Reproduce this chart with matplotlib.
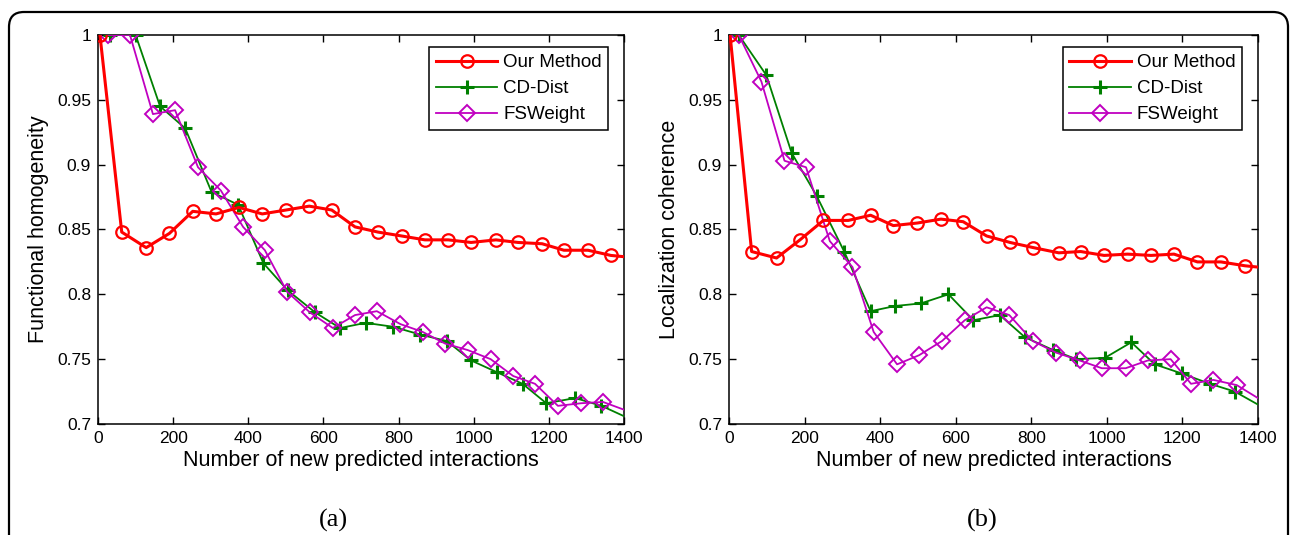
import matplotlib
matplotlib.use("Agg")
import matplotlib.pyplot as plt
from matplotlib.patches import FancyBboxPatch

plt.rcParams['font.family'] = ['Liberation Sans', 'DejaVu Sans']

# ---- data ----
# (a) functional homogeneity
a_our_x = [5, 63, 128, 190, 252, 314, 375, 437, 500, 562, 622, 684, 745, 808,
           870, 932, 993, 1059, 1118, 1182, 1240, 1304, 1365, 1400]
a_our_y = [1.0, 0.848, 0.836, 0.847, 0.864, 0.862, 0.867, 0.862, 0.865, 0.868,
           0.865, 0.852, 0.848, 0.845, 0.842, 0.842, 0.840, 0.842, 0.840, 0.839,
           0.834, 0.834, 0.830, 0.829]
a_cd_x = [32, 100, 165, 232, 302, 373, 440, 505, 578, 644, 712, 785, 857, 928,
          993, 1061, 1130, 1193, 1270, 1340, 1400]
a_cd_y = [1.0, 1.0, 0.945, 0.928, 0.879, 0.869, 0.824, 0.803, 0.786, 0.774,
          0.778, 0.775, 0.769, 0.764, 0.749, 0.740, 0.731, 0.716, 0.720, 0.714,
          0.706]
a_fs_x = [27, 85, 146, 205, 266, 327, 386, 444, 503, 564, 625, 684, 742, 805,
          864, 924, 984, 1045, 1105, 1163, 1224, 1286, 1344, 1400]
a_fs_y = [1.0, 1.0, 0.939, 0.942, 0.898, 0.880, 0.852, 0.834, 0.802, 0.786,
          0.774, 0.784, 0.787, 0.777, 0.771, 0.762, 0.757, 0.750, 0.737, 0.731,
          0.714, 0.716, 0.717, 0.711]

# (b) localization coherence
b_our_x = [3, 60, 126, 188, 250, 316, 375, 435, 499, 561, 620, 682, 744, 806,
           873, 931, 993, 1055, 1117, 1178, 1240, 1302, 1366, 1400]
b_our_y = [1.0, 0.833, 0.828, 0.842, 0.857, 0.857, 0.861, 0.853, 0.855, 0.858,
           0.856, 0.845, 0.840, 0.836, 0.832, 0.833, 0.830, 0.831, 0.830, 0.831,
           0.825, 0.825, 0.822, 0.821]
b_cd_x = [26, 99, 166, 232, 305, 375, 440, 508, 581, 647, 717, 783, 858, 919,
          995, 1065, 1127, 1198, 1273, 1339, 1400]
b_cd_y = [1.0, 0.969, 0.909, 0.876, 0.833, 0.787, 0.791, 0.793, 0.800, 0.780,
          0.784, 0.767, 0.757, 0.750, 0.751, 0.763, 0.746, 0.739, 0.731, 0.725,
          0.715]
b_fs_x = [26, 86, 147, 204, 267, 327, 383, 445, 503, 564, 624, 682, 742, 804,
          866, 928, 987, 1050, 1109, 1169, 1223, 1282, 1344, 1400]
b_fs_y = [1.0, 0.964, 0.903, 0.898, 0.841, 0.821, 0.771, 0.746, 0.753, 0.764,
          0.780, 0.790, 0.784, 0.764, 0.755, 0.749, 0.743, 0.743, 0.749, 0.750,
          0.731, 0.734, 0.730, 0.720]

names = ['Our Method', 'CD-Dist', 'FSWeight']
ylabels = ['Functional homogeneity', 'Localization coherence']
xlabel = 'Number of new predicted interactions'
panel_tags = ['(a)', '(b)']
xticks = [0, 200, 400, 600, 800, 1000, 1200, 1400]
yticks = [0.7, 0.75, 0.8, 0.85, 0.9, 0.95, 1.0]
ytick_labels = ['0.7', '0.75', '0.8', '0.85', '0.9', '0.95', '1']

panels = [
    [(a_our_x, a_our_y), (a_cd_x, a_cd_y), (a_fs_x, a_fs_y)],
    [(b_our_x, b_our_y), (b_cd_x, b_cd_y), (b_fs_x, b_fs_y)],
]

red = '#ff0000'
green = '#008000'
magenta = '#c000c0'

fig = plt.figure(figsize=(12.92, 5.35), dpi=100)

# rounded frame around the whole figure (bottom runs off the image)
fx0, fx1, fy0, fy1, pad = 0.09, 12.88, -0.5, 5.23, 0.15
frame = FancyBboxPatch((fx0 + pad, fy0 + pad), fx1 - fx0 - 2 * pad,
                       fy1 - fy0 - 2 * pad,
                       boxstyle="round,pad=0.15,rounding_size=0.15",
                       transform=fig.dpi_scale_trans, fill=False,
                       ec='black', lw=1.6)
fig.add_artist(frame)

axes_rects = [[0.0759, 0.2075, 0.4071, 0.7271],
              [0.5642, 0.2075, 0.4094, 0.7271]]
tag_x = [333 / 1292, 982 / 1292]

for i, rect in enumerate(axes_rects):
    ax = fig.add_axes(rect)
    (ox, oy), (cx, cy), (fx, fy) = panels[i]
    ax.plot(ox, oy, color=red, lw=2.2, marker='o', ms=9, mfc='none',
            mec=red, mew=1.6, markevery=list(range(len(ox) - 1)),
            label=names[0], zorder=4)
    ax.plot(cx, cy, color=green, lw=1.3, marker='+', ms=10, mew=2.2,
            markevery=list(range(len(cx) - 1)), label=names[1], zorder=3)
    ax.plot(fx, fy, color=magenta, lw=1.3, marker='D', ms=8, mfc='none',
            mec=magenta, mew=1.4, markevery=list(range(len(fx) - 1)),
            label=names[2], zorder=3)
    ax.set_xlim(0, 1400)
    ax.set_ylim(0.7, 1.0)
    ax.set_xticks(xticks)
    ax.set_yticks(yticks)
    ax.set_yticklabels(ytick_labels)
    ax.tick_params(direction='in', top=True, right=True, length=5,
                   width=1, labelsize=12.5, pad=5)
    for s in ax.spines.values():
        s.set_linewidth(1.1)
    ax.set_xlabel(xlabel, fontsize=15.5, labelpad=3)
    ax.set_ylabel(ylabels[i], fontsize=15.5, labelpad=6)
    leg = ax.legend(loc='upper right', fontsize=13.5, frameon=True,
                    fancybox=False, edgecolor='black', framealpha=1,
                    bbox_to_anchor=(0.97, 0.968), borderaxespad=0,
                    handlelength=3.3, labelspacing=0.48,
                    borderpad=0.35, handletextpad=0.3)
    leg.get_frame().set_linewidth(1.1)
    fig.text(tag_x[i], (535 - 520) / 535, panel_tags[i], ha='center',
             va='center', fontsize=19, family=['Liberation Serif', 'DejaVu Serif'])

fig.savefig('out.png', dpi=100)
